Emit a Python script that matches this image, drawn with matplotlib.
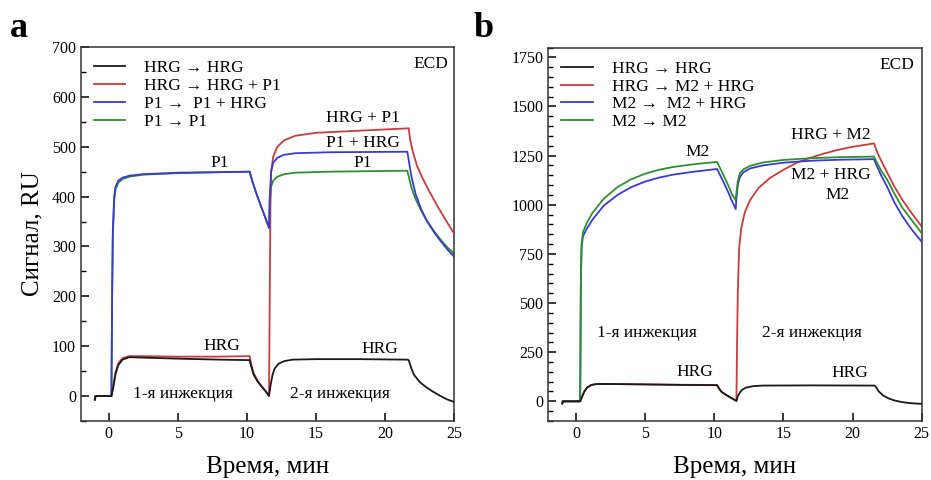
import matplotlib
matplotlib.use("Agg")
import matplotlib.pyplot as plt
from matplotlib.ticker import MultipleLocator

plt.rcParams['font.family'] = ['Liberation Serif', 'DejaVu Serif']

BLACK = '#1a1a1a'
RED = '#c83c3c'
BLUE = '#3a3ad0'
GREEN = '#2f8f2f'

# ---- panel a: ECD, HRG / P1 ----
a_t_hrg = [-1.0, -0.95, 0.0, 0.2, 0.35, 0.5, 0.7, 1.0, 1.5, 2.5, 5.0, 8.0, 10.2, 10.3, 10.5, 10.8, 11.1,
           11.4, 11.6, 11.7, 11.85, 12.0, 12.3, 12.7, 13.3, 15.0, 18.0, 21.6, 21.7, 21.9, 22.1, 22.5,
           23.0, 23.5, 24.0, 24.5, 25.0]
a_hrg = [-8, 0, 0, 0, 20, 45, 62, 73, 78, 77, 75, 73, 72, 60, 42, 28, 18,
         8, 0, 20, 42, 55, 65, 70, 73, 74, 74, 73, 72, 55, 42, 28,
         17, 8, 0, -7, -12]

a_t_hrg_p1 = [-1.0, -0.95, 0.0, 0.2, 0.35, 0.5, 0.7, 1.0, 1.5, 2.5, 5.0, 8.0, 10.2, 10.3, 10.5, 10.8, 11.1,
              11.4, 11.6, 11.65, 11.7, 11.75, 11.9, 12.2, 12.7, 13.5, 15.0, 18.0, 21.7, 21.8, 22.0,
              22.3, 22.7, 23.2, 23.8, 24.4, 25.0]
a_hrg_p1 = [-6, 0, 0, 0, 22, 48, 66, 76, 80, 80, 79, 79, 80, 65, 45, 30, 18,
            8, 0, 200, 380, 450, 480, 500, 513, 522, 528, 532, 537, 515, 490,
            462, 437, 410, 380, 352, 325]

a_t_p1_hrg = [-1.0, -0.95, 0.0, 0.2, 0.25, 0.3, 0.4, 0.5, 0.7, 1.0, 1.5, 2.5, 5.0, 8.0, 10.2, 10.4, 10.7,
              11.0, 11.3, 11.6, 11.65, 11.75, 11.9, 12.2, 12.7, 13.5, 16.0, 21.6, 21.75, 21.9, 22.2,
              22.6, 23.0, 23.5, 24.0, 24.5, 25.0]
a_p1_hrg = [-6, 0, 0, 0, 200, 330, 400, 420, 432, 438, 442, 445, 448, 449, 450, 430, 405,
            382, 360, 337, 400, 450, 468, 478, 484, 487, 489, 490, 465, 440, 405,
            375, 352, 330, 311, 294, 279]

a_t_p1 = [-1.0, -0.95, 0.0, 0.2, 0.25, 0.3, 0.4, 0.5, 0.7, 1.0, 1.5, 2.5, 5.0, 8.0, 10.2, 10.4, 10.7,
          11.0, 11.3, 11.6, 11.65, 11.75, 11.9, 12.2, 12.7, 13.5, 16.0, 21.6, 21.75, 21.9, 22.2,
          22.6, 23.0, 23.5, 24.0, 24.5, 25.0]
a_p1 = [-6, 0, 0, 0, 190, 320, 392, 415, 428, 435, 440, 444, 447, 449, 450, 430, 405,
        382, 360, 337, 390, 420, 432, 440, 445, 448, 450, 452, 435, 418, 395,
        372, 352, 332, 314, 298, 285]

a_labels = ['HRG → HRG', 'HRG → HRG + P1', 'P1 →  P1 + HRG', 'P1 → P1']

# ---- panel b: ECD, HRG / M2 ----
b_t_hrg = [-1.0, -0.95, 0.3, 0.45, 0.6, 0.8, 1.1, 1.5, 2.5, 5.0, 8.0, 10.2, 10.3, 10.5, 10.8, 11.1,
           11.4, 11.6, 11.7, 11.85, 12.0, 12.3, 12.8, 13.5, 17.0, 21.6, 21.7, 21.9, 22.2, 22.6,
           23.0, 23.5, 24.0, 24.5, 25.0]
b_hrg = [-12, 0, 0, 25, 50, 70, 83, 88, 88, 86, 83, 82, 70, 50, 35, 22,
         10, 2, 25, 45, 58, 70, 77, 80, 81, 80, 72, 50, 30, 15,
         5, -3, -8, -11, -13]

b_t_hrg_m2 = [-1.0, -0.95, 0.3, 0.45, 0.6, 0.8, 1.1, 1.5, 2.5, 5.0, 8.0, 10.2, 10.3, 10.5, 10.8, 11.1,
              11.4, 11.6, 11.65, 11.7, 11.8, 11.95, 12.2, 12.6, 13.2, 14.0, 15.0, 16.0, 17.0, 18.0,
              19.0, 20.0, 21.55, 21.8, 22.1, 22.5, 23.0, 23.6, 24.3, 25.0]
b_hrg_m2 = [-10, 0, 0, 25, 50, 70, 83, 88, 88, 86, 84, 83, 70, 50, 35, 22,
            10, 2, 300, 550, 780, 880, 960, 1025, 1085, 1135, 1178, 1215, 1240, 1262,
            1280, 1295, 1312, 1265, 1220, 1165, 1095, 1025, 955, 890]

b_t_m2_hrg = [-1.0, -0.95, 0.3, 0.35, 0.4, 0.5, 0.8, 1.2, 2.0, 3.0, 4.0, 5.0, 6.0, 7.0, 8.5, 10.2,
              10.6, 11.0, 11.3, 11.55, 11.6, 11.7, 11.85, 12.1, 12.6, 13.5, 15.0, 17.0, 19.0, 21.55,
              21.8, 22.1, 22.5, 23.0, 23.6, 24.3, 25.0]
b_m2_hrg = [-10, 0, 0, 600, 780, 840, 880, 925, 995, 1050, 1090, 1118, 1138, 1153, 1168, 1182,
            1125, 1065, 1015, 978, 1030, 1100, 1140, 1165, 1185, 1200, 1214, 1224, 1229, 1232,
            1190, 1145, 1092, 1015, 942, 872, 812]

b_t_m2 = [-1.0, -0.95, 0.3, 0.35, 0.4, 0.5, 0.8, 1.2, 2.0, 3.0, 4.0, 5.0, 6.0, 7.0, 8.5, 10.2,
          10.6, 11.0, 11.3, 11.55, 11.6, 11.7, 11.85, 12.1, 12.6, 13.5, 15.0, 17.0, 19.0, 21.55,
          21.8, 22.1, 22.5, 23.0, 23.6, 24.3, 25.0]
b_m2 = [-10, 0, 0, 600, 800, 860, 910, 960, 1030, 1090, 1130, 1158, 1178, 1192, 1206, 1218,
        1160, 1100, 1050, 1022, 1060, 1120, 1160, 1180, 1198, 1215, 1228, 1237, 1242, 1245,
        1210, 1170, 1128, 1060, 985, 920, 855]

b_labels = ['HRG → HRG', 'HRG → M2 + HRG', 'M2 →  M2 + HRG', 'M2 → M2']


def style_axes(ax, ylim, major, minor):
    ax.set_xlim(-2, 25)
    ax.set_ylim(*ylim)
    ax.xaxis.set_major_locator(MultipleLocator(5))
    ax.yaxis.set_major_locator(MultipleLocator(major))
    ax.yaxis.set_minor_locator(MultipleLocator(minor))
    ax.tick_params(which='both', direction='in', top=False, right=False, labelsize=11.5)
    ax.tick_params(which='major', length=6, width=1.1)
    ax.tick_params(which='minor', length=3.5, width=1.0)
    for sp in ax.spines.values():
        sp.set_linewidth(1.1)
        sp.set_color('#333333')
    ax.set_xlabel('Время, мин', fontsize=18, labelpad=10)


def draw_curves(ax, curves, labels, zorders):
    colors = [BLACK, RED, BLUE, GREEN]
    for (t, v), c, lab, z in zip(curves, colors, labels, zorders):
        ax.plot(t, v, color=c, lw=1.3, label=lab, zorder=z)
    ax.legend(loc='upper left', frameon=False, fontsize=12.5, handlelength=1.8,
              handletextpad=1.1, labelspacing=0.1, borderaxespad=0.35)


fig = plt.figure(figsize=(9.31, 4.8), dpi=100)
ax_a = fig.add_axes([0.087, 0.123, 0.401, 0.779])
ax_b = fig.add_axes([0.589, 0.123, 0.401, 0.778])

# panel a (blue drawn over green here)
draw_curves(ax_a, [(a_t_hrg, a_hrg), (a_t_hrg_p1, a_hrg_p1), (a_t_p1_hrg, a_p1_hrg), (a_t_p1, a_p1)],
            a_labels, [5, 3, 4, 2])
style_axes(ax_a, (-50, 700), 100, 50)
ax_a.set_ylabel('Сигнал, RU', fontsize=18, labelpad=6)
fs = 12.5
ax_a.text(24.6, 665, 'ECD', ha='right', va='center', fontsize=fs)
ax_a.text(8.0, 467, 'P1', ha='center', va='center', fontsize=fs)
ax_a.text(18.4, 558, 'HRG + P1', ha='center', va='center', fontsize=fs)
ax_a.text(18.4, 508, 'P1 + HRG', ha='center', va='center', fontsize=fs)
ax_a.text(18.4, 468, 'P1', ha='center', va='center', fontsize=fs)
ax_a.text(8.15, 100, 'HRG', ha='center', va='center', fontsize=fs)
ax_a.text(19.6, 94, 'HRG', ha='center', va='center', fontsize=fs)
ax_a.text(5.36, 5, '1-я инжекция', ha='center', va='center', fontsize=fs)
ax_a.text(16.7, 5, '2-я инжекция', ha='center', va='center', fontsize=fs)

# panel b
draw_curves(ax_b, [(b_t_hrg, b_hrg), (b_t_hrg_m2, b_hrg_m2), (b_t_m2_hrg, b_m2_hrg), (b_t_m2, b_m2)],
            b_labels, [5, 2, 3, 4])
style_axes(ax_b, (-100, 1800), 250, 50)
ax_b.text(24.5, 1713, 'ECD', ha='right', va='center', fontsize=fs)
ax_b.text(8.76, 1266, 'M2', ha='center', va='center', fontsize=fs)
ax_b.text(18.4, 1357, 'HRG + M2', ha='center', va='center', fontsize=fs)
ax_b.text(18.4, 1149, 'M2 + HRG', ha='center', va='center', fontsize=fs)
ax_b.text(18.9, 1051, 'M2', ha='center', va='center', fontsize=fs)
ax_b.text(8.57, 151, 'HRG', ha='center', va='center', fontsize=fs)
ax_b.text(19.8, 143, 'HRG', ha='center', va='center', fontsize=fs)
ax_b.text(5.15, 350, '1-я инжекция', ha='center', va='center', fontsize=fs)
ax_b.text(17.05, 350, '2-я инжекция', ha='center', va='center', fontsize=fs)

fig.text(0.011, 0.923, 'a', fontsize=26, fontweight='bold', va='baseline')
fig.text(0.509, 0.923, 'b', fontsize=26, fontweight='bold', va='baseline')

fig.savefig('out.png', dpi=100)
